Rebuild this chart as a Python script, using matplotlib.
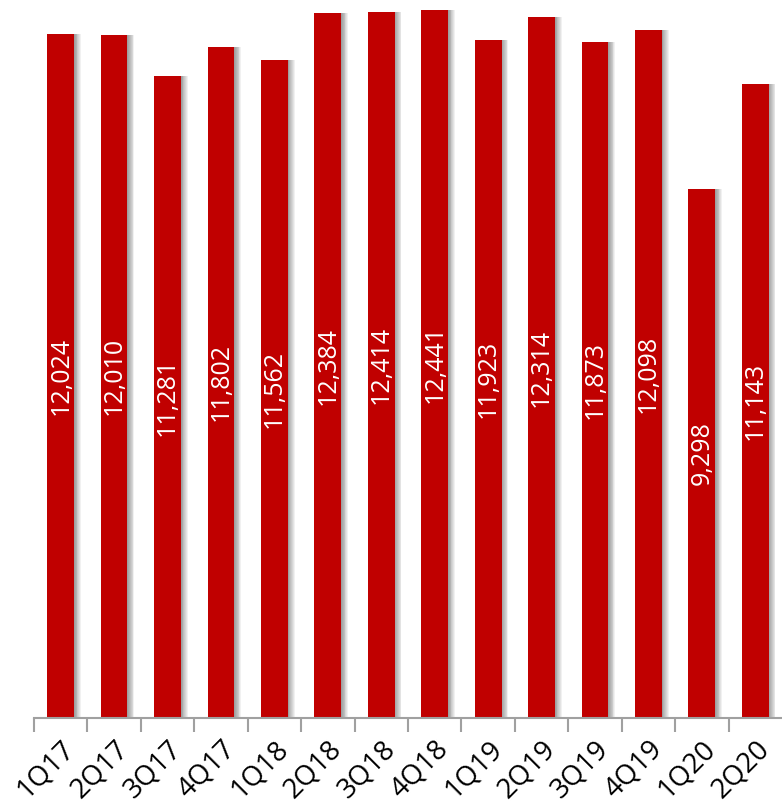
import matplotlib.pyplot as plt
import numpy as np

quarters = ['1Q17', '2Q17', '3Q17', '4Q17', '1Q18', '2Q18', '3Q18', '4Q18',
            '1Q19', '2Q19', '3Q19', '4Q19', '1Q20', '2Q20']
values = [12024, 12010, 11281, 11802, 11562, 12384, 12414, 12441,
          11923, 12314, 11873, 12098, 9298, 11143]

plt.rcParams['font.family'] = ['Open Sans', 'DejaVu Sans']

fig = plt.figure(figsize=(7.82, 8.08), dpi=100)
ax = fig.add_axes([34 / 782, 90 / 808, 748 / 782, 718 / 808])

x = np.arange(len(quarters))
w = 0.5

# soft shadow on the right side of each bar
for k in range(1, 9):
    ax.bar(x + k * 0.016, values, width=w, color='black', alpha=0.055,
           linewidth=0, zorder=1)
ax.bar(x, values, width=w, color='#C00000', linewidth=0, zorder=2)

for xi, v in zip(x, values):
    ax.text(xi, v / 2, f'{v:,}', rotation=90, ha='center', va='center',
            color='white', fontsize=18, zorder=3)

ax.set_xlim(-0.5, len(quarters) - 0.5)
ax.set_ylim(0, 12620)

ax.set_yticks([])
for s in ['top', 'right', 'left']:
    ax.spines[s].set_visible(False)
ax.spines['bottom'].set_color('#A0A0A0')
ax.spines['bottom'].set_linewidth(1.5)

ax.set_xticks(x)
ax.set_xticklabels(quarters, rotation=45, ha='right', va='top',
                   rotation_mode='anchor', fontsize=20)
ax.tick_params(axis='x', which='major', length=0, pad=12)
ax.set_xticks(np.arange(len(quarters)) - 0.5, minor=True)
ax.tick_params(axis='x', which='minor', length=10, width=1.5, color='#A0A0A0')

fig.savefig('out.png', dpi=100)
